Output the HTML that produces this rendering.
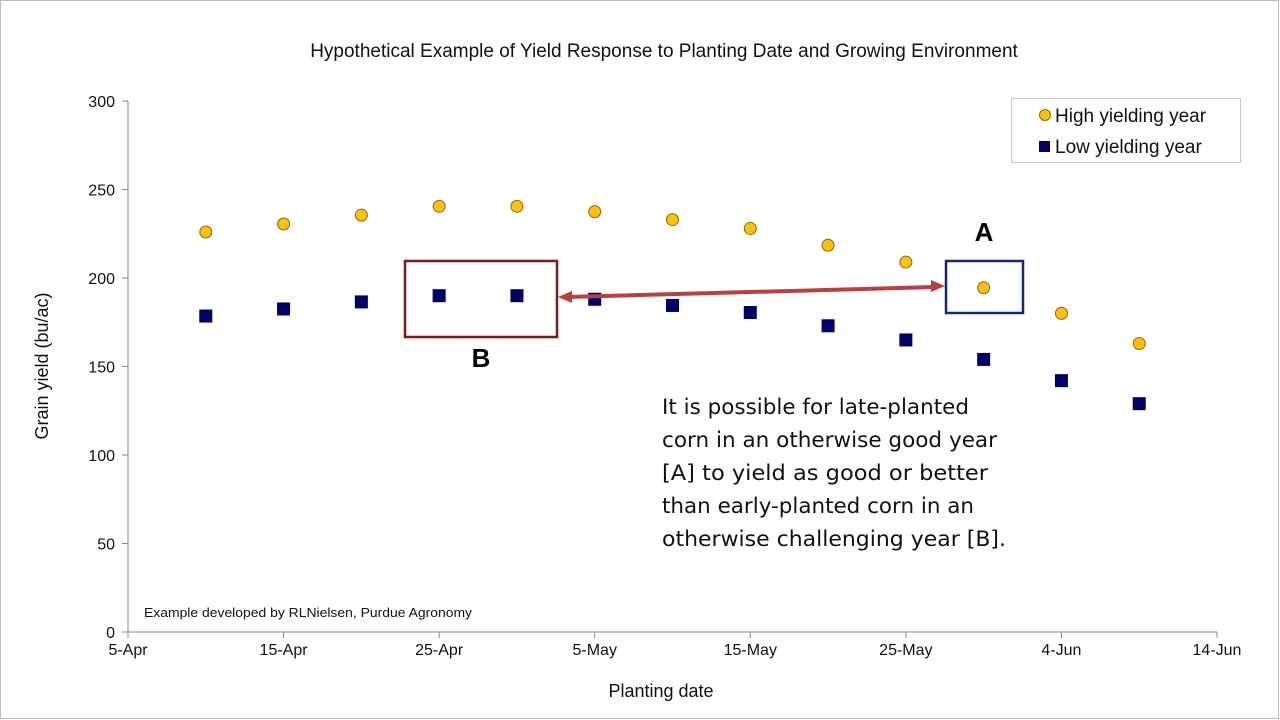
<!DOCTYPE html>
<html><head><meta charset="utf-8"><style>
body{margin:0;background:#fff}
svg{display:block;font-family:"Liberation Sans",Arial,sans-serif}
</style></head><body>
<svg width="1280" height="720" viewBox="0 0 1280 720">
<rect x="0.5" y="0.5" width="1278" height="718" fill="#fff" stroke="#bdbdbd"/>
<text x="664" y="57" font-size="19" text-anchor="middle" fill="#111">Hypothetical Example of Yield Response to Planting Date and Growing Environment</text>
<g id="axes"></g>
<g id="marks"></g>
<text x="48" y="366" font-size="18" text-anchor="middle" transform="rotate(-90 48 366)" fill="#111">Grain yield (bu/ac)</text>
<text x="661" y="697" font-size="18" text-anchor="middle" fill="#111">Planting date</text>
<text x="144" y="617" font-size="13" fill="#111" textLength="328" lengthAdjust="spacingAndGlyphs">Example developed by RLNielsen, Purdue Agronomy</text>
<rect x="405" y="261" width="152" height="76" fill="none" stroke="#7a1a1a" stroke-width="2.5"/>
<rect x="946" y="261" width="77" height="52" fill="none" stroke="#1a237e" stroke-width="2.5"/>
<text x="481" y="367" font-size="26" font-weight="bold" text-anchor="middle" fill="#000">B</text>
<text x="984" y="241" font-size="26" font-weight="bold" text-anchor="middle" fill="#000">A</text>
<g fill="#b84040" stroke="#b84040">
<line x1="568" y1="297" x2="935" y2="287" stroke-width="4"/>
<polygon points="558,297 572,291 572,303" stroke="none"/>
<polygon points="945,286 931,280 931,292" stroke="none"/>
</g>
<g font-size="21" fill="#111" style="font-family:'DejaVu Sans',sans-serif" lengthAdjust="spacingAndGlyphs">
<text x="662" y="414" textLength="307" lengthAdjust="spacingAndGlyphs">It is possible for late-planted</text>
<text x="662" y="447" textLength="335" lengthAdjust="spacingAndGlyphs">corn in an otherwise good year</text>
<text x="662" y="480" textLength="326" lengthAdjust="spacingAndGlyphs">[A] to yield as good or better</text>
<text x="662" y="513" textLength="312" lengthAdjust="spacingAndGlyphs">than early-planted corn in an</text>
<text x="662" y="546" textLength="344" lengthAdjust="spacingAndGlyphs">otherwise challenging year [B].</text>
</g>
<g>
<rect x="1011.5" y="98.5" width="229" height="64" fill="#fff" stroke="#c8c8c8"/>
<circle cx="1045" cy="115" r="5.5" fill="#fcc10f" stroke="#8a6a00" stroke-width="1"/>
<text x="1055" y="122" font-size="19" fill="#111">High yielding year</text>
<rect x="1039" y="141" width="11" height="11" fill="#000066"/>
<text x="1055" y="153" font-size="19" fill="#111">Low yielding year</text>
</g>
</svg>
<script>
const dayOffsets=[5,10,15,20,25,30,35,40,45,50,55,60,65];
const highYield=[226,230.5,235.5,240.5,240.5,237.5,233,228,218.5,209,194.5,180,163];
const lowYield=[178.5,182.5,186.5,190,190,188,184.5,180.5,173,165,154,142,129];
const xTickLabels=["5-Apr","15-Apr","25-Apr","5-May","15-May","25-May","4-Jun","14-Jun"];
const yTicks=[0,50,100,150,200,250,300];
const NS="http://www.w3.org/2000/svg";
const X0=128,X1=1217,Y0=632,Y1=101,DAYS=70;
const xs=d=>X0+(X1-X0)*d/DAYS;
const ys=v=>Y0-(Y0-Y1)*v/300;
function mk(t,a,p){const e=document.createElementNS(NS,t);for(const k in a)e.setAttribute(k,a[k]);p.appendChild(e);return e;}
const axes=document.getElementById('axes');
const ya=mk('line',{x1:X0,y1:Y1,x2:X0,y2:Y0,stroke:'#888','stroke-width':1},axes);


const xa=mk('line',{x1:X0,y1:Y0,x2:X1,y2:Y0,stroke:'#888','stroke-width':1},axes);


yTicks.forEach(v=>{
 mk('line',{x1:X0-6,y1:ys(v),x2:X0,y2:ys(v),stroke:'#888'},axes);
 const t=mk('text',{x:X0-13,y:ys(v)+6,'font-size':16,'text-anchor':'end',fill:'#111'},axes);
 t.textContent=v;
 
 
});
xTickLabels.forEach((l,i)=>{
 const x=xs(i*10);
 mk('line',{x1:x,y1:Y0,x2:x,y2:Y0+6,stroke:'#888'},axes);
 const t=mk('text',{x:x,y:Y0+23,'font-size':16,'text-anchor':'middle',fill:'#111'},axes);
 t.textContent=l;
 
 
});
const marks=document.getElementById('marks');
dayOffsets.forEach((d,i)=>{
 const c=mk('circle',{cx:xs(d),cy:ys(highYield[i]),r:6,fill:'#fcc10f',stroke:'#8a6a00','stroke-width':1},marks);
 
 
 const r=mk('rect',{x:xs(d)-6.5,y:ys(lowYield[i])-6.5,width:13,height:13,fill:'#000066'},marks);
 
 
});
</script>
</body></html>
